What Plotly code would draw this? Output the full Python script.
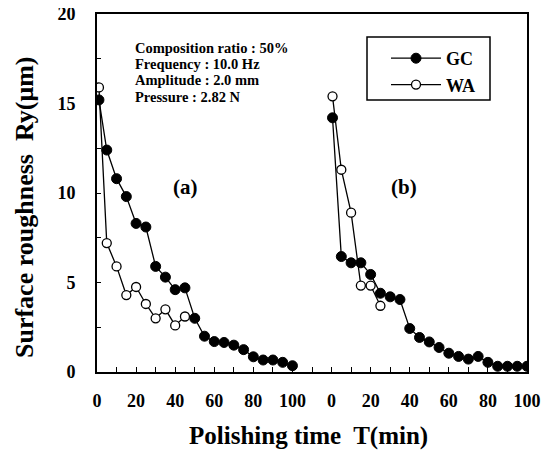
import plotly.graph_objects as go

# Panel (a)
gc_a_time = [1, 5, 10, 15, 20, 25, 30, 35, 40, 45, 50, 55, 60, 65, 70, 75, 80, 85, 90, 95, 100]
gc_a_ry = [15.2, 12.4, 10.8, 9.8, 8.3, 8.1, 5.9, 5.3, 4.6, 4.7, 3.0, 2.0, 1.7, 1.65, 1.5, 1.25, 0.85, 0.67, 0.67, 0.54, 0.35]
wa_a_time = [1, 5, 10, 15, 20, 25, 30, 35, 40, 45]
wa_a_ry = [15.9, 7.2, 5.9, 4.3, 4.75, 3.8, 3.0, 3.5, 2.6, 3.1]

# Panel (b)
gc_b_time = [0.5, 5, 10, 15, 20, 25, 30, 35, 40, 45, 50, 55, 60, 65, 70, 75, 80, 85, 90, 95, 100]
gc_b_ry = [14.2, 6.45, 6.1, 6.1, 5.45, 4.4, 4.2, 4.05, 2.43, 1.93, 1.68, 1.37, 1.05, 0.87, 0.72, 0.87, 0.54, 0.32, 0.32, 0.32, 0.32]
wa_b_time = [0.5, 5, 10, 15, 20, 25]
wa_b_ry = [15.4, 11.3, 8.9, 4.83, 4.83, 3.7]

panel_offset = 120  # panel (b) drawn to the right of panel (a) on a shared axis
x_tick_labels = ["0", "20", "40", "60", "80", "100", "0", "20", "40", "60", "80", "100"]
y_tick_labels = ["0", "5", "10", "15", "20"]

info_lines = ["Composition ratio : 50%", "Frequency : 10.0 Hz", "Amplitude : 2.0 mm", "Pressure : 2.82 N"]

SERIF = "Liberation Serif, Times New Roman, serif"

# page body has an 8px margin; plot area targeted at x 97..527, y 14..372 on screen
OFF = 8
LEFT, RIGHT, TOP, BOTTOM = 97, 527, 14, 372
W, H = 553 - 2 * OFF, 460 - 2 * OFF
ML = LEFT - OFF
MT = TOP - OFF
MR = (OFF + W) - RIGHT
MB = (OFF + H) - BOTTOM
PW, PH = RIGHT - LEFT, BOTTOM - TOP


def px(xs):
    return (xs - LEFT) / PW


def py(ys):
    return (BOTTOM - ys) / PH


def join(a_t, a_y, b_t, b_y):
    xs = list(a_t) + [None] + [t + panel_offset for t in b_t]
    ys = list(a_y) + [None] + list(b_y)
    return xs, ys


fig = go.Figure()
x, y = join(gc_a_time, gc_a_ry, gc_b_time, gc_b_ry)
fig.add_trace(go.Scatter(
    x=x, y=y, mode="lines+markers", name="GC",
    line=dict(color="black", width=1.3),
    marker=dict(symbol="circle", size=10, color="black", line=dict(color="black", width=1)),
))
x, y = join(wa_a_time, wa_a_ry, wa_b_time, wa_b_ry)
fig.add_trace(go.Scatter(
    x=x, y=y, mode="lines+markers", name="WA",
    line=dict(color="black", width=1.3),
    marker=dict(symbol="circle", size=9, color="white", line=dict(color="black", width=1.3)),
))

x_tickvals = list(range(0, 221, 10))
x_ticktext = []
for v in x_tickvals:
    if v % 20 == 0:
        if v <= 100:
            x_ticktext.append(x_tick_labels[v // 20])
        else:
            x_ticktext.append(x_tick_labels[6 + (v - panel_offset) // 20])
    else:
        x_ticktext.append("")

y_tickvals = [i * 2.5 for i in range(9)]
y_ticktext = [y_tick_labels[int(v // 5)] if v % 5 == 0 else "" for v in y_tickvals]

fig.update_xaxes(
    range=[0, 220], tickmode="array", tickvals=x_tickvals, ticktext=x_ticktext,
    ticks="inside", ticklen=5, tickwidth=1.2, tickcolor="black",
    showline=True, linecolor="black", linewidth=1.6, mirror=True,
    showgrid=False, zeroline=False, ticklabelstandoff=12, automargin=False,
    ticklabeloverflow="allow",
    tickfont=dict(family=SERIF, size=18, color="black", weight="bold"),
)
fig.update_yaxes(
    range=[0, 20], tickmode="array", tickvals=y_tickvals, ticktext=y_ticktext,
    ticks="inside", ticklen=4, tickwidth=1, tickcolor="black",
    showline=True, linecolor="black", linewidth=1.6, mirror=True,
    showgrid=False, zeroline=False, ticklabelstandoff=16, automargin=False,
    ticklabeloverflow="allow",
    tickfont=dict(family=SERIF, size=18, color="black", weight="bold"),
)

annotations = []
for i, line in enumerate(info_lines):
    annotations.append(dict(
        text=line, xref="paper", yref="paper",
        x=px(133), y=py(48 + i * 16.2),
        xanchor="left", yanchor="middle", showarrow=False,
        font=dict(family=SERIF, size=14.5, color="black", weight="bold"),
    ))
annotations.append(dict(text="(a)", xref="paper", yref="paper",
                        x=px(185), y=py(187), xanchor="center", yanchor="middle", showarrow=False,
                        font=dict(family=SERIF, size=21, color="black", weight="bold")))
annotations.append(dict(text="(b)", xref="paper", yref="paper",
                        x=px(404), y=py(187), xanchor="center", yanchor="middle", showarrow=False,
                        font=dict(family=SERIF, size=21, color="black", weight="bold")))
annotations.append(dict(text="Polishing time  T(min)", xref="paper", yref="paper",
                        x=px(308), y=py(436), xanchor="center", yanchor="middle", showarrow=False,
                        font=dict(family=SERIF, size=25, color="black", weight="bold")))
annotations.append(dict(text="Surface roughness  Ry(\u03bcm)", xref="paper", yref="paper",
                        x=px(24), y=py(207), xanchor="center", yanchor="middle", showarrow=False,
                        textangle=-90,
                        font=dict(family=SERIF, size=26, color="black", weight="bold")))

fig.update_layout(
    width=W, height=H,
    margin=dict(l=ML, r=MR, t=MT, b=MB, autoexpand=False),
    paper_bgcolor="white", plot_bgcolor="white",
    annotations=annotations,
    shapes=[dict(type="rect", xref="paper", yref="paper",
                 x0=px(367), x1=px(490), y0=py(100), y1=py(37),
                 line=dict(color="black", width=1.5), fillcolor="rgba(0,0,0,0)", layer="above")],
    showlegend=True,
    legend=dict(
        x=px(386), y=py(40), xanchor="left", yanchor="top",
        bgcolor="rgba(0,0,0,0)", borderwidth=0, itemwidth=50,
        font=dict(family=SERIF, size=18, color="black", weight="bold"),
        tracegroupgap=0,
    ),
)

fig.write_html("out.html")
